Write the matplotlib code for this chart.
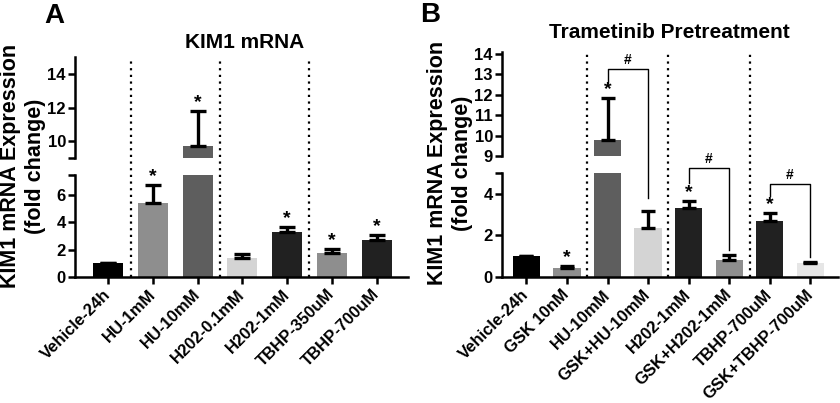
import matplotlib
matplotlib.use('Agg')
import matplotlib.pyplot as plt
from matplotlib.lines import Line2D
import matplotlib.transforms as mtransforms
import numpy as np

plt.rcParams['font.family'] = ['Liberation Sans', 'DejaVu Sans']
plt.rcParams['font.weight'] = 'bold'

W, H = 840, 403

# ---- panel A data ----
a_labels = ['Vehicle-24h', 'HU-1mM', 'HU-10mM', 'H202-0.1mM', 'H202-1mM', 'TBHP-350uM', 'TBHP-700uM']
a_means = [1.0, 5.44, 9.75, 1.36, 3.31, 1.76, 2.72]
a_sem = [0.0, 1.30, 2.05, 0.30, 0.38, 0.29, 0.37]
a_colors = ['#000000', '#8e8e8e', '#5e5e5e', '#d4d4d4', '#212121', '#8e8e8e', '#212121']
a_stars = [1, 2, 4, 5, 6]
a_groups_sep = [0.5, 2.5, 4.5]
a_lo_ylim = (0, 7.5)
a_up_ylim = (9, 15)
a_lo_ticks = [0, 2, 4, 6, 7.5]
a_lo_ticklabels = ['0', '2', '4', '6', '']
a_up_ticks = [9, 10, 12, 14]
a_up_ticklabels = ['', '10', '12', '14']

# ---- panel B data ----
b_labels = ['Vehicle-24h', 'GSK 10nM', 'HU-10mM', 'GSK+HU-10mM', 'H202-1mM',
            'GSK+H202-1mM', 'TBHP-700uM', 'GSK+TBHP-700uM']
b_means = [1.0, 0.42, 9.78, 2.34, 3.30, 0.82, 2.71, 0.66]
b_sem = [0.0, 0.10, 2.04, 0.85, 0.37, 0.24, 0.38, 0.08]
b_colors = ['#000000', '#8e8e8e', '#5e5e5e', '#d4d4d4', '#212121', '#8e8e8e', '#212121', '#e6e6e6']
b_stars = [1, 2, 4, 6]
b_groups_sep = [1.5, 3.5, 5.5]
b_lo_ylim = (0, 5)
b_up_ylim = (9, 14.1)
b_lo_ticks = [0, 2, 4, 5]
b_lo_ticklabels = ['0', '2', '4', '']
b_up_ticks = [9, 10, 11, 12, 13, 14]
b_up_ticklabels = ['9', '10', '11', '12', '13', '14']
# brackets: (left bar, right bar, height, left leg end, right leg end)
b_brackets = [(2, 3, 13.26, 12.6, 3.8),
              (4, 5, 5.22, 4.53, 1.3),
              (6, 7, 4.47, 3.89, 0.98)]


def px_box(x0, x1, ytop, ybot):
    return [x0 / W, (H - ybot) / H, (x1 - x0) / W, (ybot - ytop) / H]


fig = plt.figure(figsize=(W / 100, H / 100), dpi=100)


def style_axis(ax, ticks, ticklabels, ylim, xlim, bottom):
    ax.set_ylim(*ylim)
    ax.set_xlim(*xlim)
    ax.set_yticks(ticks)
    ax.set_yticklabels(ticklabels)
    for s in ['top', 'right']:
        ax.spines[s].set_visible(False)
    ax.spines['left'].set_linewidth(1.8)
    ax.spines['bottom'].set_linewidth(1.8)
    ax.tick_params(axis='y', width=1.8, length=5, pad=1.5, labelsize=12)
    if not bottom:
        ax.spines['bottom'].set_visible(False)
        ax.set_xticks([])


def which_ax(y, ax_lo, ax_up):
    return ax_up if y >= ax_up.get_ylim()[0] else ax_lo


def to_fig(ax, x, y):
    disp = ax.transData.transform((x, y))
    return fig.transFigure.inverted().transform(disp)


def draw_panel(lo_box, up_box, labels, means, sem, colors, stars, seps,
               lo_ylim, up_ylim, lo_ticks, lo_tl, up_ticks, up_tl, xlim, capsize):
    ax_lo = fig.add_axes(lo_box)
    ax_up = fig.add_axes(up_box)
    x = np.arange(len(labels))
    for ax in (ax_lo, ax_up):
        ax.bar(x, means, width=0.67, color=colors, zorder=2)
        ax.errorbar(x, means, yerr=[np.zeros(len(sem)), sem], fmt='none', ecolor='black',
                    elinewidth=2.4, capsize=capsize, capthick=2.4, zorder=3)
    style_axis(ax_lo, lo_ticks, lo_tl, lo_ylim, xlim, True)
    style_axis(ax_up, up_ticks, up_tl, up_ylim, xlim, False)
    ax_lo.set_xticks(x)
    ax_lo.set_xticklabels(labels, rotation=45, ha='right', va='center',
                          rotation_mode='anchor', fontsize=12)
    ax_lo.tick_params(axis='x', width=1.8, length=5, pad=6)

    # dotted group separators across the break
    trans = mtransforms.blended_transform_factory(ax_lo.transData, fig.transFigure)
    for s in seps:
        fig.add_artist(Line2D([s, s], [lo_box[1], up_box[1] + up_box[3]], transform=trans,
                              color='black', lw=1.6, linestyle=(0, (1, 2)), zorder=1))

    # asterisks
    for i in stars:
        top = means[i] + sem[i]
        ax = which_ax(top, ax_lo, ax_up)
        ax.text(x[i], top, '*', ha='center', va='bottom', fontsize=14, clip_on=False)
    return ax_lo, ax_up


ax_alo, ax_aup = draw_panel(px_box(75, 408.3, 175, 276.7), px_box(75, 408.3, 56.7, 158.3),
                            a_labels, a_means, a_sem, a_colors, a_stars, a_groups_sep,
                            a_lo_ylim, a_up_ylim, a_lo_ticks, a_lo_ticklabels,
                            a_up_ticks, a_up_ticklabels, (-0.745, 6.71), 5.6)

ax_blo, ax_bup = draw_panel(px_box(502, 838, 173, 277), px_box(502, 838, 52, 156),
                            b_labels, b_means, b_sem, b_colors, b_stars, b_groups_sep,
                            b_lo_ylim, b_up_ylim, b_lo_ticks, b_lo_ticklabels,
                            b_up_ticks, b_up_ticklabels, (-0.6, 7.68), 5.0)

# significance brackets for panel B
for i, j, yb, yl, yr in b_brackets:
    p1 = to_fig(which_ax(yl, ax_blo, ax_bup), i, yl)
    p2 = to_fig(which_ax(yb, ax_blo, ax_bup), i, yb)
    p3 = to_fig(which_ax(yb, ax_blo, ax_bup), j, yb)
    p4 = to_fig(which_ax(yr, ax_blo, ax_bup), j, yr)
    fig.add_artist(Line2D([p1[0], p2[0], p3[0], p4[0]], [p1[1], p2[1], p3[1], p4[1]],
                          transform=fig.transFigure, color='black', lw=1.0))
    fig.text((p2[0] + p3[0]) / 2, p2[1] + 2 / H, '#', ha='center', va='bottom', fontsize=10)

# titles, labels and panel letters
fig.text(245 / W, 1 - 42 / H, 'KIM1 mRNA', ha='center', va='center', fontsize=15)
fig.text(669 / W, 1 - 33 / H, 'Trametinib Pretreatment', ha='center', va='center', fontsize=15)
ylab = 'KIM1 mRNA Expression\n(fold change)'
fig.text(23 / W, 1 - 166 / H, ylab, rotation=90, ha='center', va='center',
         multialignment='center', fontsize=15.5)
fig.text(450 / W, 1 - 163 / H, ylab, rotation=90, ha='center', va='center',
         multialignment='center', fontsize=15.5)
fig.text(54 / W, 1 - 23 / H, 'A', ha='center', va='baseline', fontsize=20)
fig.text(430 / W, 1 - 22 / H, 'B', ha='center', va='baseline', fontsize=20)

fig.savefig('out.png', dpi=100)
